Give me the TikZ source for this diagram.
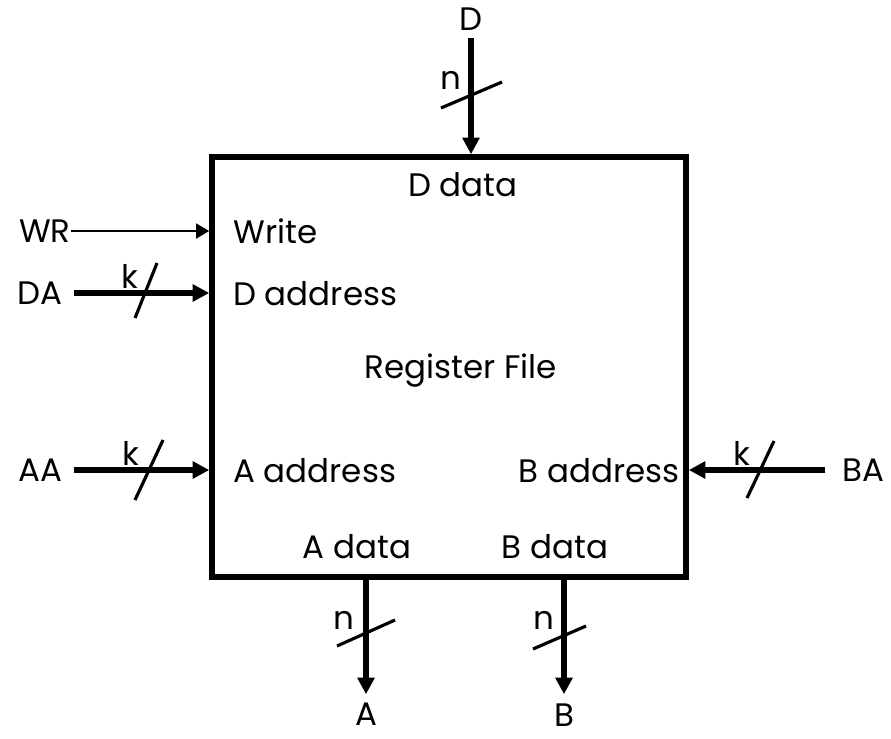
\documentclass[tikz,border=0pt]{standalone}
\usepackage{fontspec}
\setmainfont{Poppins}
\usepackage{tikz}
\usetikzlibrary{arrows.meta,positioning}

\begin{document}
\begin{tikzpicture}[
 x=0.02cm, y=-0.02cm,
 lbl/.style={inner sep=0pt, text depth=0pt, font=\fontsize{18.5}{20}\selectfont},
 regbox/.style={draw, line width=3.2pt, minimum width=9.48cm, minimum height=8.4cm, inner sep=0pt},
 bus/.style={-{Triangle[length=9.5pt,width=9.5pt]}, line width=3.2pt},
 wire/.style={-{Triangle[length=7.5pt,width=8.5pt]}, line width=1.2pt},
 slash/.style={line width=1.8pt}
]
\useasboundingbox (0,0) rectangle (891,738);

% register file block
\node[regbox] (rf) at (449,367) {};
\node[lbl] (title) at (461,366) {Register File};
\node[lbl] (ddata) at (463,184) {D data};
\node[lbl, anchor=west] (write) at (233,231) {Write};
\node[lbl, anchor=west] (daddr) at (233,293) {D address};
\node[lbl, anchor=west] (aaddr) at (233,470) {A address};
\node[lbl, anchor=east] (baddr) at (680,470) {B address};
\node[lbl] (adata) at (357,546) {A data};
\node[lbl] (bdata) at (555,546) {B data};

% outside signals
\node[lbl, anchor=south] (d)  at (471,31)  {D};
\node[lbl, anchor=east]  (wr) at (71,231)  {WR};
\node[lbl, anchor=east]  (da) at (63,293)  {DA};
\node[lbl, anchor=east]  (aa) at (63,470)  {AA};
\node[lbl, anchor=west]  (ba) at (842,470) {BA};
\node[lbl, anchor=north] (a)  at (366,703) {A};
\node[lbl, anchor=north] (b)  at (564,703) {B};

% connectors
\draw[bus, shorten <=4pt]  (d.south) -- (d.south |- rf.north);
\draw[wire] (wr.east) -- (wr.east -| rf.west);
\draw[bus, shorten <=6pt]  (da.east) -- (da.east -| rf.west);
\draw[bus, shorten <=6pt]  (aa.east) -- (aa.east -| rf.west);
\draw[bus, shorten <=9.5pt] (ba.west) -- (ba.west -| rf.east);
\draw[bus, shorten >=5pt] (rf.south -| a) -- (a.north);
\draw[bus, shorten >=5pt] (rf.south -| b) -- (b.north);

% bus widths
\draw[slash] (441,108) -- (502,82);
\node[lbl] (nd) at (451,80) {n};
\draw[slash] (135,318) -- (157,263);
\node[lbl] (kd) at (130,276) {k};
\draw[slash] (135,500) -- (163,440);
\node[lbl] (ka) at (131,453) {k};
\draw[slash] (747,498) -- (774,441);
\node[lbl] (kb) at (742,453) {k};
\draw[slash] (337,646) -- (395,620);
\node[lbl] (na) at (344,620) {n};
\draw[slash] (533,649) -- (586,626);
\node[lbl] (nb) at (544,620) {n};
\end{tikzpicture}
\end{document}
